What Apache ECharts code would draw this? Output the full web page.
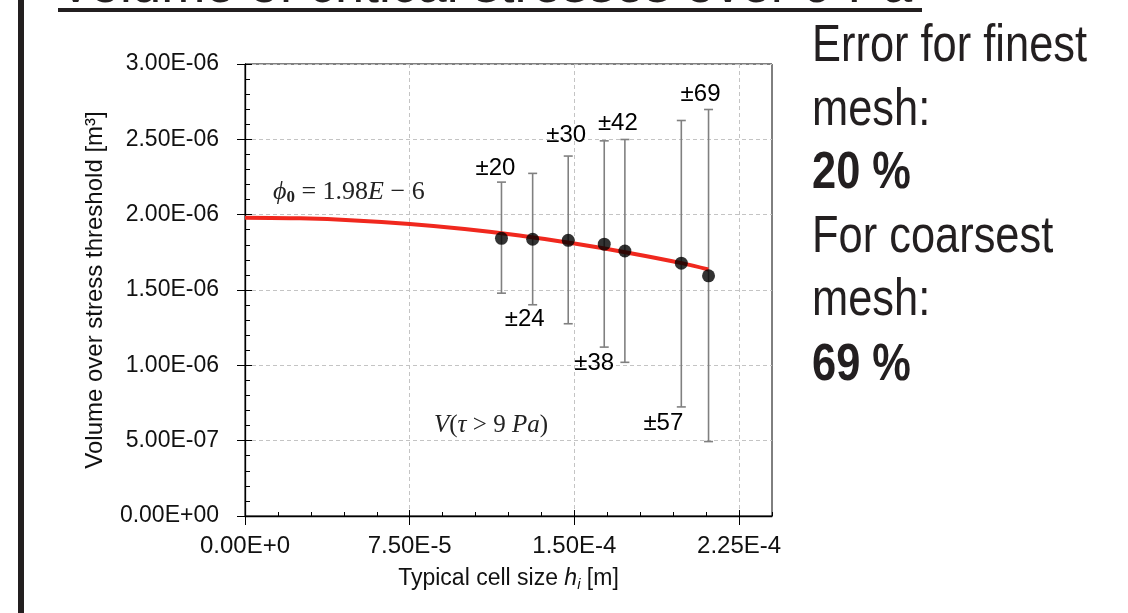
<!DOCTYPE html>
<html style="height: 100%">
<head>
    <meta charset="utf-8">
    <script type="text/javascript" src="https://cdn.jsdelivr.net/npm/echarts@6/dist/echarts.min.js"></script>
</head>
<body style="height: 100%; margin: 0; background: #fff">
<div id="container" style="width: 1128px; height: 613px"></div>
<script type="text/javascript">
// mesh study: cell size vs volume above 9 Pa
const cellSize = [1.168e-4, 1.310e-4, 1.472e-4, 1.636e-4, 1.730e-4, 1.987e-4, 2.111e-4];
const volume = [1.843e-6, 1.837e-6, 1.830e-6, 1.804e-6, 1.759e-6, 1.678e-6, 1.594e-6];
const errLow = [1.479e-6, 1.402e-6, 1.276e-6, 1.121e-6, 1.020e-6, 0.724e-6, 0.494e-6];
const errHigh = [2.216e-6, 2.274e-6, 2.389e-6, 2.490e-6, 2.499e-6, 2.625e-6, 2.698e-6];
const errLabels = ['±20', '±24', '±30', '±38', '±42', '±57', '±69'];

// red fitted curve
const fitX = [0, 2.5e-5, 5e-5, 7.5e-5, 1.0e-4, 1.25e-4, 1.5e-4, 1.75e-4, 2.0e-4, 2.11e-4];
const fitY = [1.980e-6, 1.976e-6, 1.962e-6, 1.938e-6, 1.905e-6, 1.862e-6, 1.808e-6, 1.746e-6, 1.675e-6, 1.636e-6];

const xTickValues = [0, 7.5e-5, 1.5e-4, 2.25e-4];
const xTickLabels = ['0.00E+0', '7.50E-5', '1.50E-4', '2.25E-4'];
const yTickValues = [0, 5e-7, 1e-6, 1.5e-6, 2e-6, 2.5e-6, 3e-6];
const yTickLabels = ['0.00E+00', '5.00E-07', '1.00E-06', '1.50E-06', '2.00E-06', '2.50E-06', '3.00E-06'];

// where each ± label sits relative to its bar end
const labelSide = ['top', 'bottom', 'top', 'bottom', 'top', 'bottom', 'top'];
const labelDx = [-6, -8, -2, -10, -7, -18, -8];
const labelDy = [14, 15, 21, 16, 16, 16, 15];

const SANS = '"Liberation Sans", Arial, sans-serif';
const SERIF = '"Liberation Serif", "DejaVu Serif", serif';

function pickLabel(vals, labels, tol) {
    return function (v) {
        for (let i = 0; i < vals.length; i++) {
            if (Math.abs(vals[i] - v) < tol) return labels[i];
        }
        return '';
    };
}

// narrow-looking slide text: Liberation Sans squeezed horizontally
function slideText(txt, y, bold) {
    return {
        type: 'text', x: 812, y: y, scaleX: 0.835,
        style: {text: txt, font: (bold ? 'bold ' : '') + '52px ' + SANS, fill: '#231f20', verticalAlign: 'middle'}
    };
}

const myChart = echarts.init(document.getElementById('container'), null, {renderer: 'canvas'});

const gridDash = {show: true, lineStyle: {color: '#c4c4c4', type: [4, 3], width: 1}};

const option = {
    backgroundColor: '#fff',
    animation: false,
    grid: {
        left: 245, right: 356, top: 64, bottom: 97,
        show: true, borderColor: '#000', borderWidth: 1, backgroundColor: '#fff'
    },
    xAxis: [
        {
            type: 'value', position: 'bottom', min: 0, max: 2.4e-4, interval: 1.5e-5,
            axisLine: {show: true, onZero: false, lineStyle: {color: '#000', width: 1.3}},
            axisTick: {show: true, inside: true, length: 4, lineStyle: {color: '#000'}},
            axisLabel: {
                customValues: xTickValues,
                formatter: pickLabel(xTickValues, xTickLabels, 1e-9),
                color: '#111', fontSize: 24, fontFamily: SANS, margin: 18
            },
            splitLine: {show: false},
            name: '{n|Typical cell size }{h|h}{s|i}{n| [m]}',
            nameLocation: 'middle',
            nameGap: 50,
            nameTextStyle: {
                rich: {
                    n: {fontSize: 23, fontFamily: SANS, color: '#111', lineHeight: 26},
                    h: {fontSize: 23, fontFamily: SANS, fontStyle: 'italic', color: '#111', lineHeight: 26},
                    s: {fontSize: 15, fontFamily: SANS, fontStyle: 'italic', color: '#111', lineHeight: 10, verticalAlign: 'bottom'}
                }
            }
        },
        {
            type: 'value', position: 'bottom', min: 0, max: 2.4e-4, interval: 7.5e-5,
            axisLine: {show: false},
            axisTick: {show: true, customValues: xTickValues, length: 9, lineStyle: {color: '#000'}},
            axisLabel: {show: false},
            splitLine: gridDash
        },
        {
            type: 'value', position: 'bottom', min: 0, max: 2.4e-4, interval: 7.5e-5,
            axisLine: {show: false},
            axisTick: {show: true, inside: true, customValues: xTickValues, length: 6, lineStyle: {color: '#000'}},
            axisLabel: {show: false},
            splitLine: {show: false}
        }
    ],
    yAxis: [
        {
            type: 'value', position: 'left', min: 0, max: 3e-6, interval: 1e-7,
            axisLine: {show: true, onZero: false, lineStyle: {color: '#000', width: 1.3}},
            axisTick: {show: true, inside: true, length: 5, lineStyle: {color: '#000'}},
            axisLabel: {
                customValues: yTickValues,
                formatter: pickLabel(yTickValues, yTickLabels, 1e-10),
                color: '#111', fontSize: 23, fontFamily: SANS, margin: 26
            },
            splitLine: {show: false},
            name: 'Volume over stress threshold [m³]',
            nameLocation: 'middle',
            nameGap: 138,
            nameTextStyle: {fontSize: 24, fontFamily: SANS, color: '#111'}
        },
        {
            type: 'value', position: 'left', min: 0, max: 3e-6, interval: 5e-7,
            axisLine: {show: false},
            axisTick: {show: true, length: 8, lineStyle: {color: '#000'}},
            axisLabel: {show: false},
            splitLine: gridDash
        },
        {
            type: 'value', position: 'left', min: 0, max: 3e-6, interval: 5e-7,
            axisLine: {show: false},
            axisTick: {show: true, inside: true, length: 7, lineStyle: {color: '#000'}},
            axisLabel: {show: false},
            splitLine: {show: false}
        }
    ],
    series: [
        {
            name: 'error',
            type: 'custom',
            z: 3,
            data: cellSize.map((x, i) => [x, errLow[i], errHigh[i]]),
            encode: {x: 0, y: [1, 2]},
            renderItem: function (params, api) {
                const i = params.dataIndex;
                const top = api.coord([api.value(0), api.value(2)]);
                const bot = api.coord([api.value(0), api.value(1)]);
                const cap = 4.5;
                const st = {stroke: '#808080', lineWidth: 1.6};
                const anchor = labelSide[i] === 'top' ? top : bot;
                const dy = labelSide[i] === 'top' ? -labelDy[i] : labelDy[i];
                return {
                    type: 'group',
                    children: [
                        {type: 'line', shape: {x1: top[0], y1: top[1], x2: bot[0], y2: bot[1]}, style: st},
                        {type: 'line', shape: {x1: top[0] - cap, y1: top[1], x2: top[0] + cap, y2: top[1]}, style: st},
                        {type: 'line', shape: {x1: bot[0] - cap, y1: bot[1], x2: bot[0] + cap, y2: bot[1]}, style: st},
                        {
                            type: 'text',
                            x: anchor[0] + labelDx[i],
                            y: anchor[1] + dy,
                            style: {
                                text: errLabels[i], fill: '#000',
                                font: '24px ' + SANS,
                                align: 'center', verticalAlign: 'middle'
                            }
                        }
                    ]
                };
            }
        },
        {
            name: 'fit',
            type: 'line',
            z: 4,
            data: fitX.map((x, i) => [x, fitY[i]]),
            smooth: 0.3,
            showSymbol: false,
            lineStyle: {color: '#f0281e', width: 4}
        },
        {
            name: 'volume',
            type: 'scatter',
            z: 5,
            data: cellSize.map((x, i) => [x, volume[i]]),
            symbol: 'circle',
            symbolSize: 13,
            itemStyle: {color: '#000'}
        }
    ],
    graphic: [
        {type: 'rect', left: 18, top: 0, shape: {width: 6, height: 613}, style: {fill: '#231f20'}},
        {
            type: 'text', x: 58, y: -13,
            style: {text: 'Volume of critical stresses over 9 Pa', font: '53px ' + SANS, fill: '#231f20', verticalAlign: 'middle'}
        },
        {type: 'rect', x: 58, y: 8, shape: {width: 864, height: 4}, style: {fill: '#231f20'}},
        slideText('Error for finest', 47, false),
        slideText('mesh:', 111, false),
        slideText('20 %', 174, true),
        slideText('For coarsest', 238, false),
        slideText('mesh:', 301, false),
        slideText('69 %', 366, true),
        {
            type: 'text', x: 273, y: 192, z: 10,
            style: {
                text: '{i|ϕ}{b|0}{n| = 1.98}{i|E}{n| − 6}',
                verticalAlign: 'middle',
                rich: {
                    i: {fontSize: 26, fontFamily: SERIF, fontStyle: 'italic', fill: '#222', lineHeight: 28},
                    n: {fontSize: 26, fontFamily: SERIF, fill: '#222', lineHeight: 28},
                    b: {fontSize: 17, fontFamily: SERIF, fontWeight: 'bold', fill: '#222', lineHeight: 10, verticalAlign: 'bottom'}
                }
            }
        },
        {
            type: 'text', x: 434, y: 425, z: 10,
            style: {
                text: '{i|V}{n|(}{i|τ}{n| > 9 }{i|Pa}{n|)}',
                verticalAlign: 'middle',
                rich: {
                    i: {fontSize: 25, fontFamily: SERIF, fontStyle: 'italic', fill: '#222'},
                    n: {fontSize: 25, fontFamily: SERIF, fill: '#222'}
                }
            }
        }
    ]
};

myChart.setOption(option);
</script>
</body>
</html>
